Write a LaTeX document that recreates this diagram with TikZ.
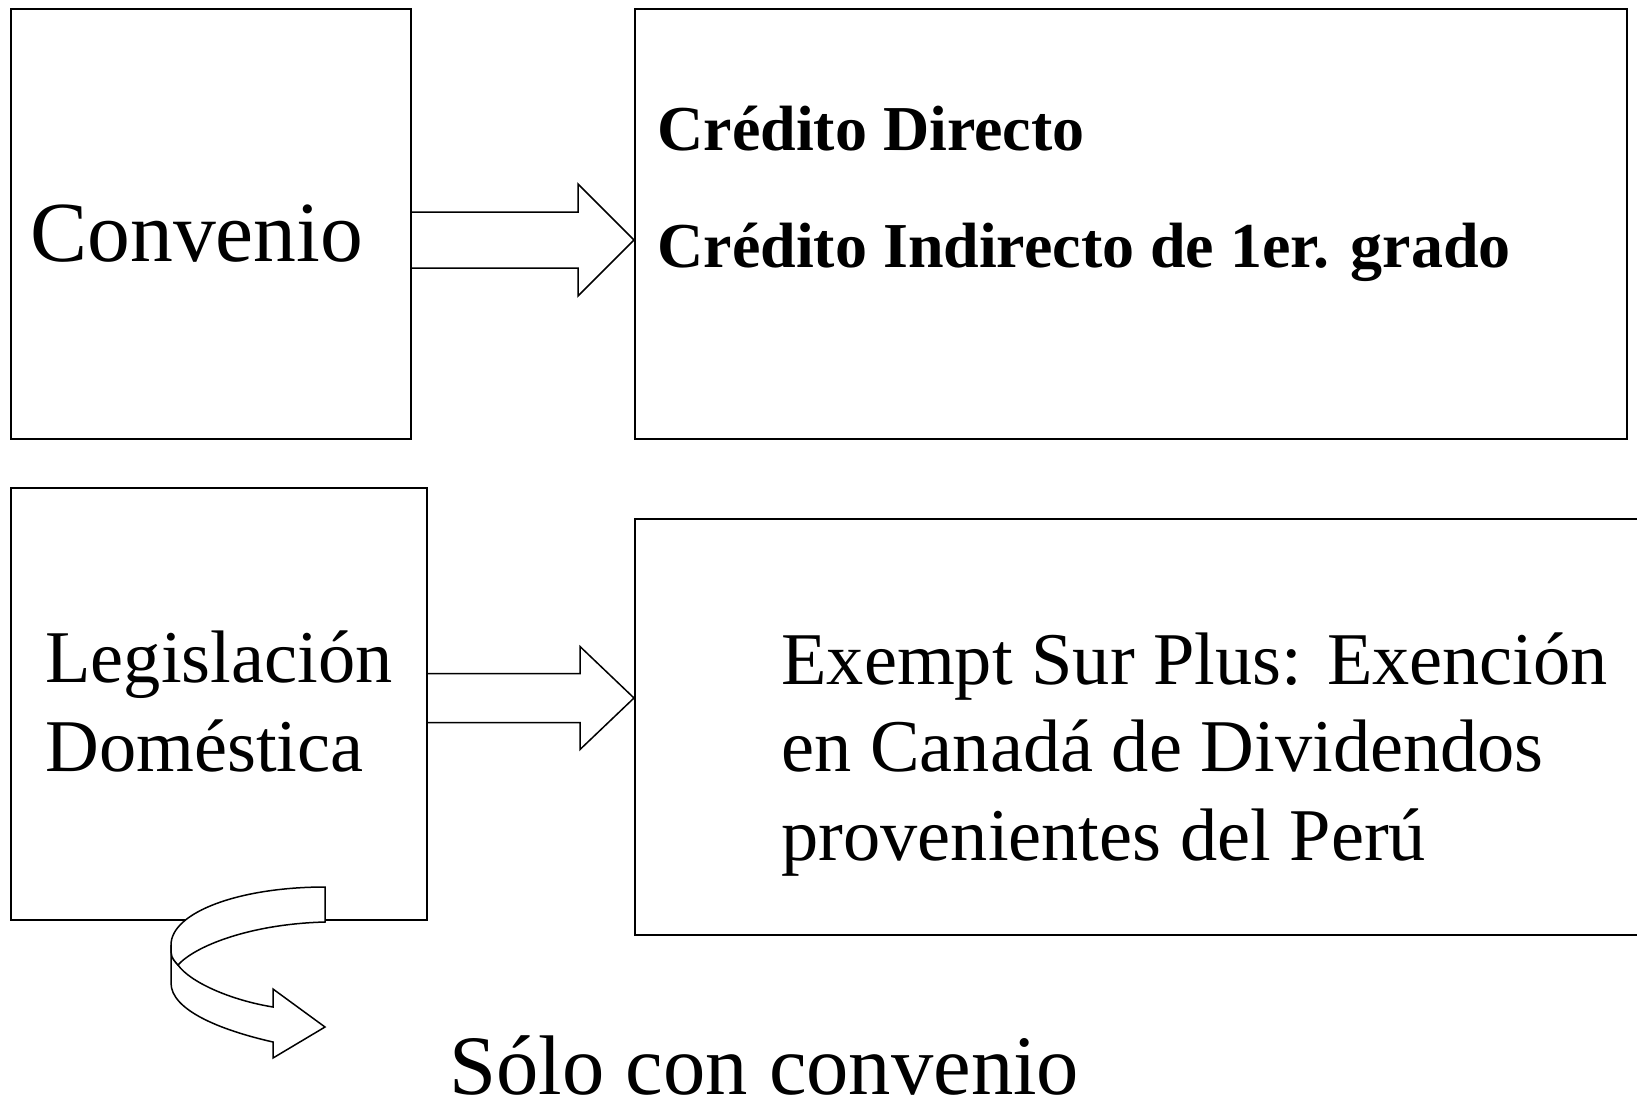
\documentclass[tikz,border=0pt]{standalone}
\usepackage{fontspec}
\setmainfont{Liberation Serif}
\usetikzlibrary{calc,fit}
\def\blockarrow(#1)(#2)(#3:#4:#5){\draw[arrowline] ($(#1)+(0,-#3)$) -- ($(#2)+(-#5,-#3)$) -- ($(#2)+(-#5,-#4)$) -- (#2) -- ($(#2)+(-#5,#4)$) -- ($(#2)+(-#5,#3)$) -- ($(#1)+(0,#3)$);}
\tikzset{
  box/.style={draw, line width=1pt, inner sep=0pt},
  arrowline/.style={line width=0.75pt, fill=white, line join=miter},
  bigtxt/.style={anchor=base west, inner sep=0pt, font=\fontsize{42.8pt}{52pt}\selectfont},
  midtxt/.style={anchor=base west, inner sep=0pt, font=\fontsize{37.2pt}{44pt}\selectfont},
  boldtxt/.style={anchor=base west, inner sep=0pt, font=\bfseries\fontsize{32pt}{38pt}\selectfont}
}
\begin{document}
\begin{tikzpicture}[x=0.5pt, y=-0.5pt]
			%%%%% FRAME %%%%%
			\useasboundingbox (0,0) rectangle (1637,1103);
			
			\node[box, fit={(11,8.5) (411,439)}] (conv) {};
			\node[box, fit={(635,8.5) (1627,439)}] (cred) {};
			\node[box, fit={(11,488) (427,920)}] (dom) {};
			\node[box, fit={(635,519) (1660,935)}] (exempt) {};
			
			%%%%% TEXTS %%%%%
			\node[bigtxt] (convtxt) at (30,261) {Convenio};
			\node[boldtxt] (credA) at (657,150) {Crédito Directo};
			\node[boldtxt] (credB) at (657,267) {Crédito Indirecto de 1er. grado};
			
			\node[midtxt] (domA) at (45,682) {Legislación};
			\node[midtxt] (domB) at (45,771) {Doméstica};
			
			\node[midtxt] (exA) at (781,684) {Exempt Sur Plus: Exención};
			\node[midtxt] (exB) at (781,771) {en Canadá de Dividendos};
			\node[midtxt] (exC) at (781,860) {provenientes del Perú};
			
			\node[bigtxt, font=\fontsize{42.3pt}{52pt}\selectfont] (solo) at (449,1094) {Sólo con convenio};
			
			%%%%% ARROWS %%%%%
			\coordinate (a1) at (conv.east |- 0,240);
			\coordinate (b1) at (cred.west |- 0,240);
			\blockarrow(a1)(b1)(28:56:56);
			
			\coordinate (a2) at (dom.east |- 0,698);
			\coordinate (b2) at (exempt.west |- 0,698);
			\blockarrow(a2)(b2)(24.5:51.5:54);
			
			% curved ribbon arrow
			\draw[arrowline] (171,945) -- (171,983) .. controls (171,1010) and (220,1030) .. (273,1042)
				-- (273,1058) -- (325,1027) -- (273,989) -- (273,1007)
				.. controls (230,1000) and (190,982) .. (178,965)
				.. controls (171,957) .. (171,945) -- cycle;
			\draw[arrowline] (325,887) .. controls (240,887) and (171,912) .. (171,945)
				.. controls (171,957) .. (178,965)
				.. controls (195,946) and (250,924) .. (325,922) -- cycle;
			
			%%%%% END %%%%%
\end{tikzpicture}
\end{document}
